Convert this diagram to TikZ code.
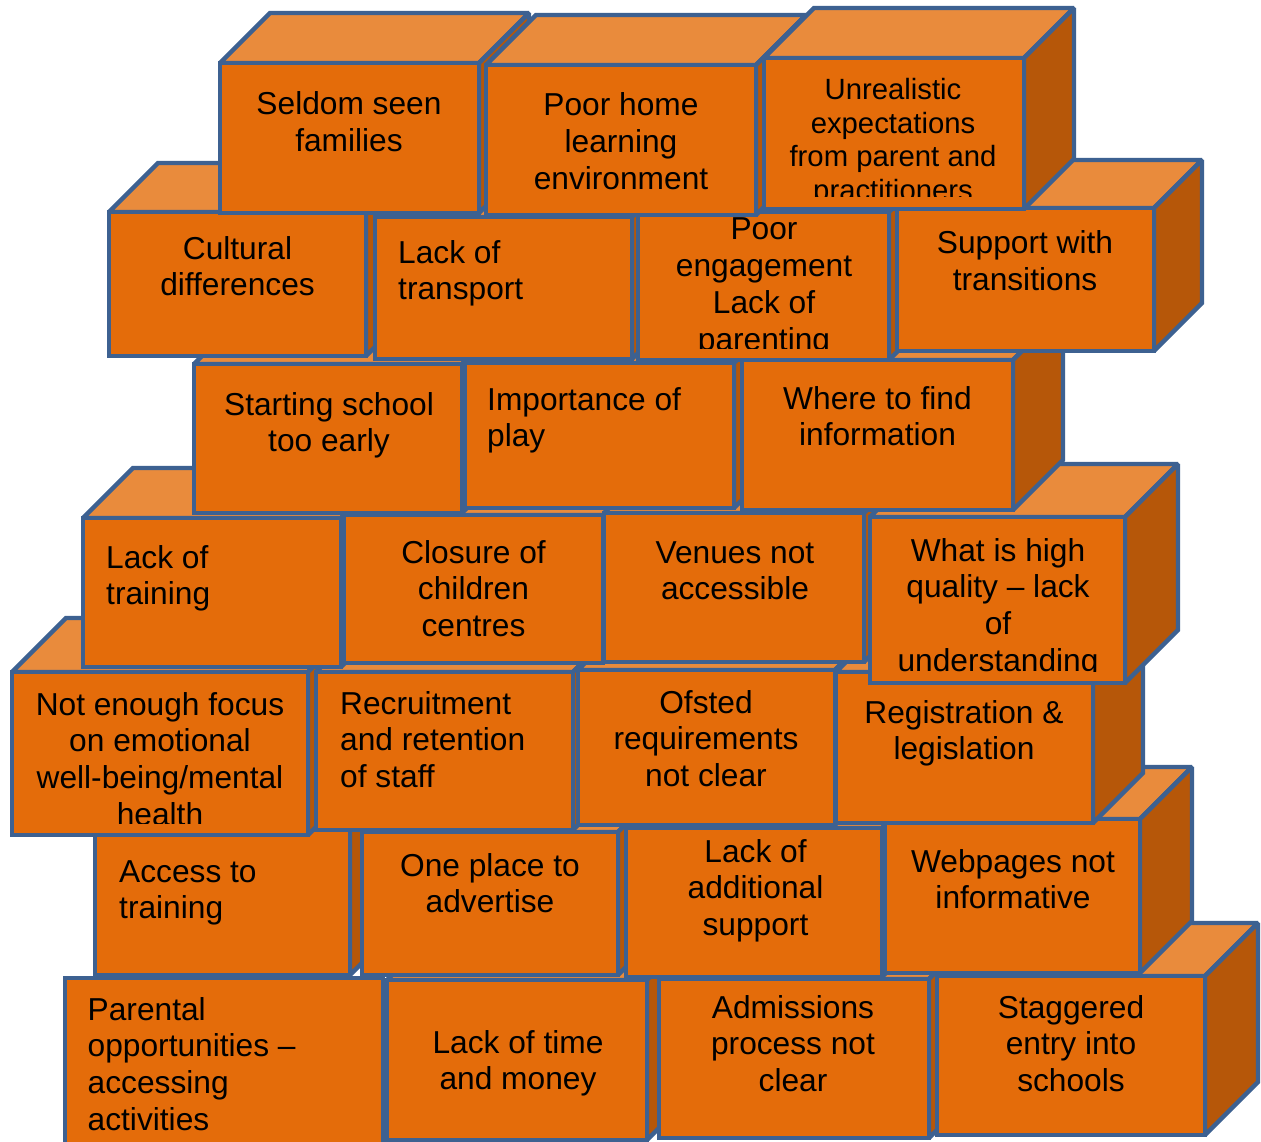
\documentclass[tikz,border=0pt]{standalone}
\usepackage{fontspec}
\setmainfont{Liberation Sans}
\definecolor{frontc}{HTML}{E46C0A}
\definecolor{topc}{HTML}{E98B3C}
\definecolor{sidec}{HTML}{B65709}
\definecolor{edgec}{HTML}{3D6191}
\tikzset{
  face/.style={draw=edgec, line width=4.3pt, line join=miter, miter limit=2},
  txt/.style={inner sep=0pt, text=black, font=\fontsize{31.7}{36.8}\selectfont},
  al-c/.style={anchor=base},
  al-l/.style={anchor=base west}
}
% #1 x1, #2 y1 (top), #3 x2, #4 y2 (bottom), #5 depth
\newcommand\mybrick[5]{%
  \filldraw[face,fill=topc] (#1,#2) -- (#1+#5,#2-#5) -- (#3+#5,#2-#5) -- (#3,#2) -- cycle;
  \filldraw[face,fill=sidec] (#3,#2) -- (#3+#5,#2-#5) -- (#3+#5,#4-#5) -- (#3,#4) -- cycle;
  \filldraw[face,fill=frontc] (#1,#2) rectangle (#3,#4);
}
% #1 name, #2-#5 front box, #6 x, #7 first baseline, #8 c/l, #9 text
\newcommand\mybtxt[9]{%
  \begin{scope}
    \clip (#2,#3) rectangle (#4,#5-12);
    \node[txt,al-#8] (#1) at (#6,#7) {\begin{tabular}[t]{@{}#8@{}}#9\end{tabular}};
  \end{scope}}
\begin{document}
\begin{tikzpicture}[x=1pt,y=-1pt]
\useasboundingbox (0,0) rectangle (1261,1142);
\fill[white] (0,0) rectangle (1261,1142);
\clip (0,0) rectangle (1261,1142);

% ---- Row 7 ----
\filldraw[face,fill=frontc] (65,978) rectangle (383,1170);
\mybtxt{t23}{65}{978}{383}{1170}{87.5}{1020}{l}{Parental\\opportunities –\\accessing\\activities}
\mybrick{387}{980}{647}{1140}{50}
\mybtxt{t24}{387}{980}{647}{1140}{518}{1053}{c}{Lack of time\\and money}
\mybrick{659}{979}{929}{1138}{50}
\mybtxt{t25}{659}{979}{929}{1138}{793}{1018}{c}{Admissions\\process not\\clear}
\mybrick{937}{976}{1205}{1135}{53}
\mybtxt{t26}{937}{976}{1205}{1135}{1071}{1018}{c}{Staggered\\entry into\\schools}

% ---- Row 6 ----
\mybrick{95}{830}{350}{975}{50}
\mybtxt{t19}{95}{830}{350}{975}{119}{882}{l}{Access to\\training}
\mybrick{362}{832}{618}{975}{50}
\mybtxt{t20}{362}{832}{618}{975}{490}{876}{c}{One place to\\advertise}
\mybrick{626}{828}{882}{977}{50}
\mybtxt{t21}{626}{828}{882}{977}{755.5}{862}{c}{Lack of\\additional\\support}
\mybrick{885}{819}{1140}{973}{52}
\mybtxt{t22}{885}{819}{1140}{973}{1013}{872}{c}{Webpages not\\informative}

% ---- Row 5 ----
\mybrick{12}{672}{308}{835}{54}
\mybtxt{t15}{12}{672}{308}{835}{160}{715}{c}{Not enough focus\\on emotional\\well-being/mental\\health}
\mybrick{316}{672}{573}{830}{50}
\mybtxt{t16}{316}{672}{573}{830}{340}{714}{l}{Recruitment\\and retention\\of staff}
\mybrick{578}{670}{835}{825}{50}
\mybtxt{t17}{578}{670}{835}{825}{706}{713}{c}{Ofsted\\requirements\\not clear}
\mybrick{836}{672}{1093}{823}{50}
\mybtxt{t18}{836}{672}{1093}{823}{964}{723}{c}{Registration \&\\legislation}

% ---- Row 4 ----
\mybrick{83}{518}{341}{667}{50}
\mybtxt{t11}{83}{518}{341}{667}{106}{568}{l}{Lack of\\training}
\mybrick{344}{515}{603}{663}{50}
\mybtxt{t12}{344}{515}{603}{663}{473.5}{563}{c}{Closure of\\children\\centres}
\mybrick{604}{513}{864}{662}{50}
\mybtxt{t13}{604}{513}{864}{662}{735}{563}{c}{Venues not\\accessible}
\mybrick{870}{517}{1125}{683}{53}
\mybtxt{t14}{870}{517}{1125}{683}{998}{561}{c}{What is high\\quality – lack\\of\\understanding}

% ---- Row 3 ----
\mybrick{194}{364}{462}{513}{50}
\mybtxt{t8}{194}{364}{462}{513}{329}{415}{c}{Starting school\\too early}
\mybrick{465}{363}{734}{508}{50}
\mybtxt{t9}{465}{363}{734}{508}{487}{410}{l}{Importance of\\play}
\mybrick{742}{360}{1013}{510}{50}
\mybtxt{t10}{742}{360}{1013}{510}{877.5}{409}{c}{Where to find\\information}

% ---- Row 2 ----
\mybrick{109}{212}{366}{356}{49}
\mybtxt{t4}{109}{212}{366}{356}{237.5}{259}{c}{Cultural\\differences}
\mybrick{375}{217}{632}{359}{50}
\mybtxt{t5}{375}{217}{632}{359}{398}{263}{l}{Lack of\\transport}
\mybrick{638}{212}{889}{360}{50}
\mybtxt{t6}{638}{212}{889}{360}{764}{240}{c}{Poor\\engagement\\Lack of\\parenting}
\mybrick{897}{208}{1154}{351}{48}
\mybtxt{t7}{897}{208}{1154}{351}{1025}{254}{c}{Support with\\transitions}

% ---- Row 1 ----
\mybrick{220}{63}{479}{213}{50}
\mybtxt{t1}{220}{63}{479}{213}{349}{115}{c}{Seldom seen\\families}
\mybrick{486}{65}{756}{215}{50}
\mybtxt{t2}{486}{65}{756}{215}{621}{116}{c}{Poor home\\learning\\environment}
\mybrick{764}{58}{1024}{209}{50}
\begin{scope}
  \clip (764,58) rectangle (1024,197);
  \node[txt,al-c,font=\fontsize{29.3}{33.4}\selectfont] (t3) at (893,100)
    {\begin{tabular}[t]{@{}c@{}}Unrealistic\\expectations\\from parent and\\practitioners\end{tabular}};
\end{scope}
\end{tikzpicture}
\end{document}
